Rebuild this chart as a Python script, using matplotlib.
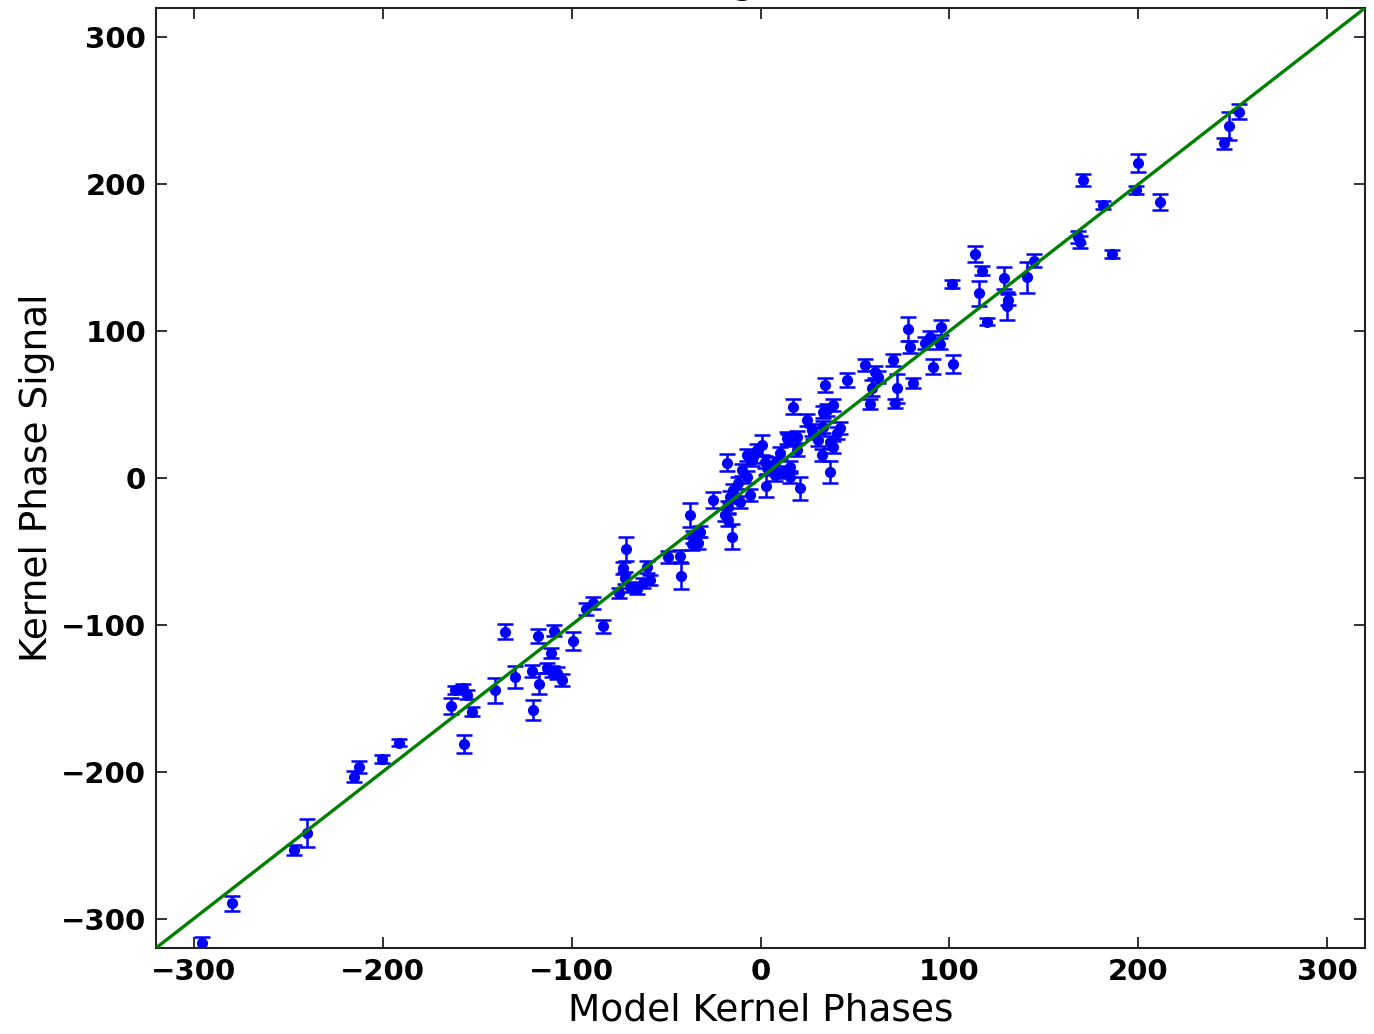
import matplotlib
matplotlib.use("Agg")
import matplotlib.pyplot as plt
import numpy as np

# Model kernel phases (x), measured kernel phase signal (y), 1-sigma errors
model_phase = [
    -295.5, -280.0, -246.8, -240.2, -212.5, -215.0, -200.5, -191.5, -164.0, -161.7,
    -157.3, -155.5, -152.9, -156.8, -140.6, -135.3, -130.2, -121.1, -117.1, -120.4,
    -117.6, -109.3, -111.0, -113.2, -110.5, -107.9, -105.2, -99.1, -83.3, -92.5,
    -88.5, -74.7, -72.6, -71.7, -71.4, -69.1, -65.5, -62.0, -58.5, -60.2,
    -48.8, -42.6, -42.1, -37.2, -35.6, -32.9, -36.4, -32.0, -25.0, -18.8,
    -17.0, -15.2, -17.0, -17.9, -10.9, -14.4, -16.1, -11.8, -10.0, -7.3,
    -7.3, -4.7, -2.0, 0.6, 2.9, -5.6, 2.4, -3.8, 3.3, 7.7,
    7.7, 12.1, 15.6, 15.6, 10.3, 19.2, 20.9, 13.9, 14.7, 19.2,
    17.4, 24.5, 27.1, 28.0, 30.6, 33.2, 33.2, 35.0, 38.5, 38.5,
    36.8, 32.4, 36.8, 40.3, 42.1, 34.1, 45.6, 55.3, 60.6, 62.4,
    58.9, 58.0, 70.3, 72.1, 71.2, 80.9, 79.1, 78.2, 91.5, 101.7,
    87.1, 89.7, 95.0, 95.4, 101.2, 113.6, 117.1, 115.7, 119.7, 128.9,
    130.3, 130.8, 141.3, 144.8, 168.0, 169.0, 170.7, 181.3, 185.9, 199.8,
    198.8, 211.5, 245.4, 248.0, 253.5,
]
signal_phase = [
    -316.7, -289.5, -253.2, -241.9, -196.9, -203.3, -191.3, -180.2, -155.0, -144.3,
    -143.2, -147.5, -159.0, -181.1, -144.5, -104.6, -135.5, -131.5, -140.0, -158.0,
    -107.5, -103.9, -119.3, -129.5, -131.8, -133.0, -137.5, -111.0, -101.1, -89.0,
    -85.0, -78.5, -61.5, -68.3, -48.5, -74.0, -75.8, -71.3, -69.4, -60.4,
    -54.0, -53.1, -66.7, -25.2, -40.4, -44.0, -44.9, -36.5, -15.0, -25.2,
    -28.6, -40.0, -19.5, 10.4, -16.1, -8.2, -12.7, -3.6, 5.4, 0.9,
    15.7, 12.3, 19.0, 22.5, -5.4, -11.6, 11.1, 14.5, 6.6, 10.0,
    2.0, 4.3, 7.7, 0.9, 16.8, 19.0, -7.0, 27.0, 25.9, 28.1,
    48.5, 39.5, 32.7, 30.4, 25.9, 34.9, 45.1, 46.3, 49.7, 21.3,
    24.7, 15.7, 4.3, 30.4, 33.8, 63.3, 66.7, 76.9, 72.4, 69.0,
    61.1, 50.4, 80.3, 61.1, 50.8, 64.5, 89.4, 101.4, 75.8, 77.8,
    91.7, 96.2, 91.5, 102.6, 132.1, 152.5, 141.1, 125.7, 106.4, 135.9,
    117.0, 121.5, 136.6, 147.9, 164.0, 160.6, 202.9, 185.8, 152.5, 214.4,
    196.0, 188.1, 227.8, 239.6, 249.4,
]
signal_err = [
    4.0, 5.0, 3.5, 9.5, 4.0, 4.0, 3.0, 2.5, 5.5, 3.0,
    3.0, 3.0, 3.0, 6.0, 8.5, 5.0, 7.5, 4.0, 7.0, 7.0,
    4.5, 3.7, 3.5, 3.5, 3.5, 4.0, 4.0, 6.0, 4.5, 4.0,
    4.0, 3.5, 4.0, 4.0, 8.3, 3.5, 3.5, 3.5, 3.5, 4.0,
    4.0, 4.0, 8.7, 8.4, 4.0, 4.0, 4.0, 4.0, 5.5, 4.0,
    4.0, 8.5, 4.0, 5.7, 4.0, 4.0, 4.0, 4.0, 4.0, 4.0,
    4.0, 4.0, 4.0, 6.8, 7.6, 4.0, 4.0, 4.0, 4.0, 4.0,
    4.0, 4.0, 4.0, 4.0, 4.0, 4.0, 8.0, 4.0, 4.0, 4.0,
    5.0, 4.0, 4.0, 4.0, 4.0, 4.0, 4.0, 4.0, 4.0, 4.0,
    4.0, 4.0, 7.4, 4.0, 4.0, 5.0, 5.0, 4.0, 4.0, 4.0,
    5.5, 3.5, 4.0, 10.0, 3.0, 3.5, 4.0, 8.0, 5.0, 6.0,
    4.0, 4.0, 4.0, 5.0, 3.0, 5.3, 3.0, 8.3, 2.5, 7.5,
    9.6, 4.0, 10.5, 4.5, 4.0, 4.0, 4.0, 2.5, 3.0, 6.0,
    2.5, 5.3, 4.0, 9.7, 5.0,
]
axis_limits = [-320, 320]
tick_values = [-300, -200, -100, 0, 100, 200, 300]

fig = plt.figure(figsize=(13.74, 10.34), dpi=100)
ax = fig.add_axes([156 / 1374, 1 - 948 / 1034, (1365 - 156) / 1374, (948 - 8) / 1034])

ax.errorbar(model_phase, signal_phase, yerr=signal_err, fmt='o', color='blue',
            ecolor='blue', markersize=7, elinewidth=1.8, capsize=6, capthick=1.8,
            zorder=2)
ax.plot(axis_limits, axis_limits, color='green', linewidth=2.4, zorder=3)

ax.set_xlim(axis_limits)
ax.set_ylim(axis_limits)
ax.set_xticks(tick_values)
ax.set_yticks(tick_values)
ax.tick_params(direction='in', top=True, right=True, length=8, width=1.3,
               labelsize=21, pad=7, color='#222222')
for lab in ax.get_xticklabels() + ax.get_yticklabels():
    lab.set_fontweight('bold')
for s in ax.spines.values():
    s.set_linewidth(1.5)
    s.set_color('#222222')

ax.set_xlabel('Model Kernel Phases', fontsize=27, labelpad=5)
ax.set_ylabel('Kernel Phase Signal', fontsize=27, labelpad=4)
ax.set_title('Fitting Result', fontsize=27, pad=11)

fig.savefig('out.png', dpi=100)
